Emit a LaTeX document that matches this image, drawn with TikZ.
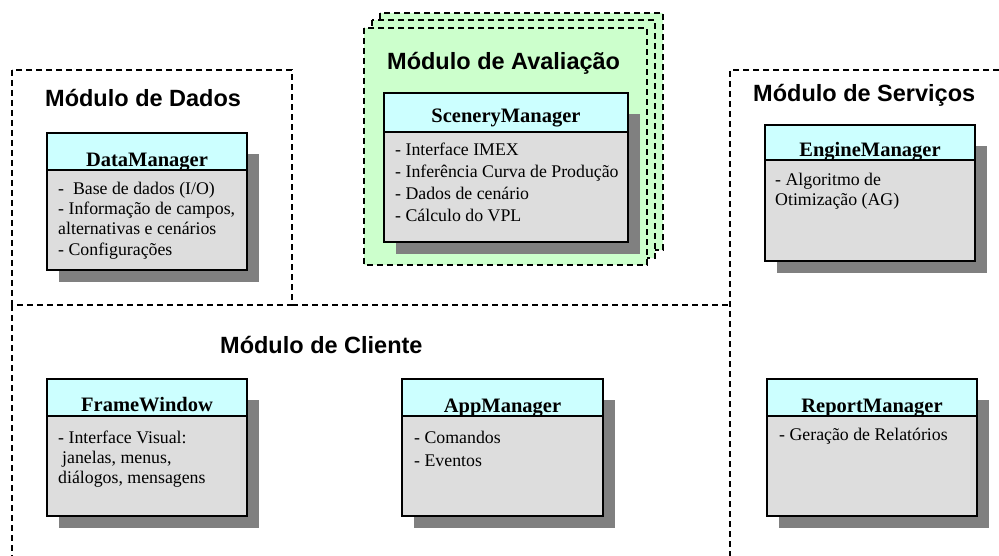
\documentclass[tikz,border=0pt]{standalone}
\usepackage{fontspec}
\setmainfont{Liberation Serif}
\newfontfamily\arialfont{Liberation Sans}
\definecolor{shadowgray}{HTML}{808080}
\definecolor{headcyan}{HTML}{CCFFFF}
\definecolor{bodygray}{HTML}{DDDDDD}
\definecolor{evalgreen}{HTML}{CCFFCC}
\tikzset{
 dashbox/.style={draw=black, line width=1.1pt, dash pattern=on 6pt off 4pt},
 headbox/.style={fill=headcyan, draw=black, line width=1.3pt},
 bodybox/.style={fill=bodygray, draw=black, line width=1.3pt},
 modtitle/.style={font=\arialfont\bfseries\fontsize{23.5}{28}\selectfont, anchor=base west, inner sep=0pt},
 classtitle/.style={font=\bfseries\fontsize{20.5}{24}\selectfont, anchor=base, inner sep=0pt},
 item/.style={font=\fontsize{17.8}{21}\selectfont, anchor=base west, inner sep=0pt},
}
% name, x1, y1, x2, yheader, y2, title, title baseline offset
\newcommand\classbox[8]{%
 \fill[shadowgray] (#2+12,#3+21) rectangle (#4+12,#6+12);
 \draw[headbox] (#2,#3) rectangle (#4,#5);
 \node[classtitle] (#1) at ({(#2+#4)/2},#5-#8) {#7};
 \draw[bodybox] (#2,#5) rectangle (#4,#6);
}
\begin{document}
\begin{tikzpicture}[x=1pt,y=-1pt]
\useasboundingbox (0,0) rectangle (999,556);
% module borders
\draw[dashbox] (12,70) rectangle (292,305);
\draw[dashbox] (292,305) -- (730,305);
\draw[dashbox] (12,305) -- (12,556);
\draw[dashbox] (999,70) -- (730,70) -- (730,556);
% evaluation stack
\filldraw[dashbox, fill=evalgreen] (380,13) rectangle (663,250);
\filldraw[dashbox, fill=evalgreen] (372,20) rectangle (655,258);
\filldraw[dashbox, fill=evalgreen] (364,28) rectangle (647,265);
% module titles
\node[modtitle] (tAval) at (387,70) {Módulo de Avaliação};
\node[modtitle] (tDados) at (45,107) {Módulo de Dados};
\node[modtitle] (tServ) at (753,102) {Módulo de Serviços};
\node[modtitle] (tCli) at (220,353) {Módulo de Cliente};
% classes
\classbox{cData}{47}{133}{247}{170}{270}{DataManager}{3.5}
\node[item] (d1) at (58,195) {-\ \ Base de dados (I/O)};
\node[item] (d2) at (58,215) {- Informação de campos,};
\node[item] (d3) at (58,235) {alternativas e cenários};
\node[item] (d4) at (58,255) {- Configurações};

\classbox{cScen}{384}{93}{628}{132}{242}{SceneryManager}{9}
\node[item] (s1) at (395,156) {- Interface IMEX};
\node[item] (s2) at (395,178) {- Inferência Curva de Produção};
\node[item] (s3) at (395,200) {- Dados de cenário};
\node[item] (s4) at (395,222) {- Cálculo do VPL};

\classbox{cEng}{765}{125}{975}{160}{261}{EngineManager}{3.5}
\node[item] (e1) at (775,186) {- Algoritmo de};
\node[item] (e2) at (775,206) {Otimização (AG)};

\classbox{cFrame}{47}{379}{247}{416}{516}{FrameWindow}{5}
\node[item] (f1) at (58,443) {- Interface Visual:};
\node[item] (f2) at (62,463) {janelas, menus,};
\node[item] (f3) at (58,483) {diálogos, mensagens};

\classbox{cApp}{402}{379}{603}{416}{516}{AppManager}{3.5}
\node[item] (a1) at (414,443) {- Comandos};
\node[item] (a2) at (414,466) {- Eventos};

\classbox{cRep}{767}{379}{977}{416}{516}{ReportManager}{3.5}
\node[item] (r1) at (779,440) {- Geração de Relatórios};
\end{tikzpicture}
\end{document}
